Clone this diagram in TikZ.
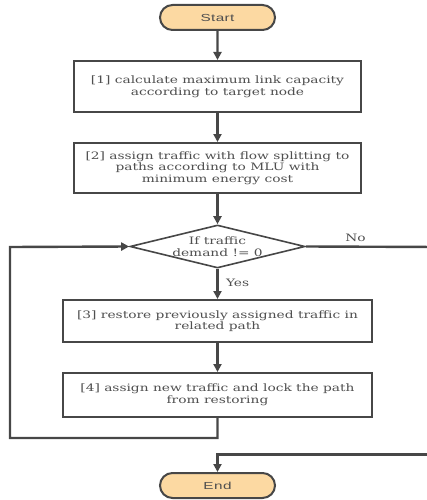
\documentclass[tikz,border=0pt]{standalone}
\usepackage{fontspec}
\setmainfont[FakeStretch=1.35]{DejaVu Serif}
\newfontfamily\termfont[FakeStretch=1.5,LetterSpace=4]{Liberation Sans}
\usetikzlibrary{shapes.geometric,shapes.misc,arrows.meta}
\definecolor{linec}{HTML}{474747}
\definecolor{textc}{HTML}{4F4F4F}
\definecolor{termfill}{HTML}{FCD9A2}
\tikzset{
  conn/.style={draw=linec, line width=2.4pt},
  arr/.style={conn, -{Triangle[length=8pt,width=8pt]}},
  term/.style={rounded rectangle, draw=linec, line width=2pt, fill=termfill,
    minimum width=115pt, minimum height=25pt, inner sep=0pt,
    font=\termfont\fontsize{10.2}{11}\selectfont, text=textc},
  proc/.style={rectangle, draw=linec, line width=2pt, fill=white, inner sep=0pt,
    align=center, font=\fontsize{10.2}{11.6}\selectfont, text=textc},
  dec/.style={diamond, draw=linec, line width=1.6pt, fill=white, inner sep=0pt, aspect=4,
    minimum width=175pt, minimum height=43pt, align=center,
    font=\fontsize{10.2}{11.6}\selectfont, text=textc},
  lab/.style={font=\fontsize{10.2}{11}\selectfont, text=textc}
}
\begin{document}
\begin{tikzpicture}[x=1pt,y=-1pt]
\useasboundingbox (0,0) rectangle (427,500);
\node[term] (start) at (217.5,17.5) {Start};
\node[proc, minimum width=287pt, minimum height=51pt] (b1) at (217.5,86.5)
  {[1] calculate maximum link capacity\\according to target node};
\node[proc, minimum width=287pt, minimum height=50pt] (b2) at (217.5,168)
  {[2] assign traffic with flow splitting to\\paths according to MLU with\\minimum energy cost};
\node[dec] (d) at (217.5,246.5) {If traffic\\demand != 0};
\node[proc, minimum width=309pt, minimum height=42pt] (b3) at (217.5,321)
  {[3] restore previously assigned traffic in\\related path};
\node[proc, minimum width=309pt, minimum height=44pt] (b4) at (217.5,395)
  {[4] assign new traffic and lock the path\\from restoring};
\node[term] (end) at (217.5,485.5) {End};
\coordinate (lb) at (10,438);
\coordinate (lt) at (10,247);
\coordinate (rt) at (440,247);
\coordinate (rb) at (440,454.5);
\draw[arr] (start) -- (b1);
\draw[arr] (b1) -- (b2);
\draw[arr] (b2) -- (d);
\draw[arr] (d) -- node[lab, right=4pt, pos=0.45] {Yes} (b3);
\draw[arr] (b3) -- (b4);
\draw[arr] (b4.south) |- (lb) -- (lt) -- (d.west);
\draw[conn] (d.east) -- node[lab, above=1pt, pos=0.37] {No} (rt) -- (rb);
\draw[arr] (rb) -| (end.north);
\end{tikzpicture}
\end{document}
